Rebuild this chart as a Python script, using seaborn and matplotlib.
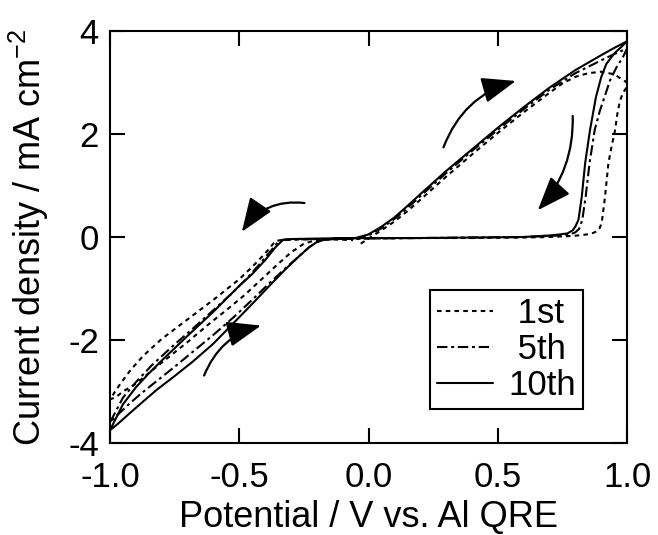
import numpy as np
import pandas as pd
import matplotlib
matplotlib.use("Agg")
import matplotlib.pyplot as plt
import seaborn as sns

# ---------------- data ----------------
cycle_names = ["1st", "5th", "10th"]
legend_labels = [" 1st", " 5th", "10th"]

# 1st cycle (dotted)
v1_fwd = [-0.03, 0.0, 0.05, 0.1, 0.15, 0.2, 0.3, 0.4, 0.5, 0.6, 0.7, 0.75, 0.8, 0.85, 0.9, 0.95, 0.975, 1.0]
i1_fwd = [-0.13, -0.03, 0.13, 0.3, 0.5, 0.72, 1.17, 1.6, 2.02, 2.42, 2.8, 2.98, 3.11, 3.18, 3.21, 3.16, 3.08, 3.0]
v1_rev = [0.995, 0.985, 0.973, 0.963, 0.954, 0.94, 0.928, 0.915, 0.902, 0.893, 0.883, 0.86, 0.83, 0.79, 0.7, 0.6, 0.4, 0.2, 0.0, -0.2, -0.3, -0.34]
i1_rev = [2.88, 2.8, 2.65, 2.4, 2.08, 1.75, 1.43, 0.78, 0.27, 0.16, 0.11, 0.06, 0.04, 0.02, 0.0, -0.01, -0.02, -0.02, -0.03, -0.04, -0.05, -0.06]
v1_cat = [-0.36, -0.4, -0.45, -0.5, -0.6, -0.7, -0.8, -0.87, -0.92, -0.96, -1.0]
i1_cat = [-0.08, -0.32, -0.58, -0.82, -1.22, -1.6, -1.98, -2.3, -2.58, -2.85, -3.15]
v1_ano = [-0.98, -0.95, -0.9, -0.84, -0.77, -0.7, -0.62, -0.55, -0.48, -0.42, -0.36, -0.3, -0.25, -0.21, -0.18, -0.12, -0.06]
i1_ano = [-3.12, -3.0, -2.85, -2.6, -2.32, -2.04, -1.7, -1.42, -1.13, -0.85, -0.57, -0.3, -0.13, -0.07, -0.05, -0.05, -0.06]

# 5th cycle (dash-dot)
v5_fwd = [-0.05, 0.0, 0.05, 0.1, 0.15, 0.2, 0.3, 0.4, 0.5, 0.6, 0.7, 0.8, 0.9, 0.95, 1.0]
i5_fwd = [-0.03, 0.03, 0.17, 0.35, 0.56, 0.79, 1.24, 1.67, 2.08, 2.48, 2.86, 3.18, 3.43, 3.55, 3.66]
v5_rev = [0.985, 0.96, 0.935, 0.915, 0.895, 0.875, 0.855, 0.84, 0.827, 0.815, 0.8, 0.78, 0.74, 0.7, 0.6, 0.4, 0.2, 0.0, -0.2, -0.3, -0.33]
i5_rev = [3.5, 3.3, 3.05, 2.75, 2.45, 2.08, 1.43, 0.78, 0.33, 0.16, 0.09, 0.05, 0.03, 0.02, 0.0, -0.01, -0.02, -0.03, -0.04, -0.05, -0.06]
v5_cat = [-0.35, -0.38, -0.42, -0.47, -0.53, -0.6, -0.68, -0.76, -0.84, -0.9, -0.95, -1.0]
i5_cat = [-0.1, -0.28, -0.52, -0.8, -1.1, -1.42, -1.78, -2.13, -2.5, -2.82, -3.12, -3.6]
v5_ano = [-0.97, -0.93, -0.88, -0.82, -0.75, -0.68, -0.6, -0.52, -0.45, -0.38, -0.32, -0.27, -0.23, -0.2, -0.17, -0.12, -0.05]
i5_ano = [-3.45, -3.26, -3.04, -2.8, -2.52, -2.23, -1.9, -1.55, -1.22, -0.88, -0.6, -0.38, -0.2, -0.1, -0.05, -0.04, -0.03]

# 10th cycle (solid)
v10_fwd = [-0.05, 0.0, 0.05, 0.1, 0.15, 0.2, 0.3, 0.4, 0.5, 0.6, 0.7, 0.8, 0.9, 0.95, 1.0]
i10_fwd = [-0.02, 0.05, 0.2, 0.38, 0.6, 0.83, 1.28, 1.7, 2.12, 2.52, 2.9, 3.24, 3.53, 3.67, 3.8]
v10_rev = [0.98, 0.95, 0.92, 0.9, 0.88, 0.857, 0.838, 0.825, 0.812, 0.8, 0.79, 0.77, 0.74, 0.7, 0.6, 0.4, 0.2, 0.0, -0.2, -0.3, -0.33]
i10_rev = [3.7, 3.56, 3.36, 3.1, 2.72, 2.08, 1.43, 0.78, 0.33, 0.2, 0.13, 0.07, 0.05, 0.03, 0.0, -0.01, -0.02, -0.02, -0.03, -0.04, -0.05]
v10_cat = [-0.36, -0.4, -0.45, -0.5, -0.6, -0.7, -0.8, -0.85, -0.9, -0.95, -1.0]
i10_cat = [-0.2, -0.45, -0.72, -0.95, -1.45, -1.92, -2.4, -2.65, -2.92, -3.25, -3.75]
v10_ano = [-0.97, -0.93, -0.88, -0.82, -0.75, -0.68, -0.6, -0.52, -0.45, -0.38, -0.32, -0.27, -0.23, -0.2, -0.17, -0.12, -0.05]
i10_ano = [-3.63, -3.45, -3.23, -2.97, -2.70, -2.42, -2.07, -1.66, -1.30, -0.93, -0.62, -0.38, -0.2, -0.1, -0.05, -0.03, -0.02]

x_ticks = [-1.0, -0.5, 0.0, 0.5, 1.0]
x_ticklabels = ["-1.0", "-0.5", "0.0", "0.5", "1.0"]
y_ticks = [-4, -2, 0, 2, 4]
y_ticklabels = ["-4", "-2", "0", "2", "4"]

# scan-direction arrows: (tail V, tail I, tip V, tip I, curvature)
arrows = [
    (0.29, 1.74, 0.57, 3.03, -0.25),
    (0.79, 2.35, 0.655, 0.52, -0.2),
    (-0.248, 0.66, -0.49, 0.10, 0.3),
    (-0.636, -2.69, -0.416, -1.72, -0.25),
]

# ---------------- build table ----------------
frames = []
for name, parts in [
    ("1st", [(v1_fwd, i1_fwd), (v1_rev, i1_rev), (v1_cat, i1_cat), (v1_ano, i1_ano)]),
    ("5th", [(v5_fwd, i5_fwd), (v5_rev, i5_rev), (v5_cat, i5_cat), (v5_ano, i5_ano)]),
    ("10th", [(v10_fwd, i10_fwd), (v10_rev, i10_rev), (v10_cat, i10_cat), (v10_ano, i10_ano)]),
]:
    v = sum([p[0] for p in parts], [])
    i = sum([p[1] for p in parts], [])
    frames.append(pd.DataFrame({"V": v, "I": i, "cycle": name}))
df = pd.concat(frames, ignore_index=True)

# ---------------- style ----------------
sns.set_style("ticks")
plt.rcParams["font.family"] = ["Liberation Sans", "DejaVu Sans"]
plt.rcParams["mathtext.fontset"] = "custom"
plt.rcParams["mathtext.rm"] = "Liberation Sans"
plt.rcParams["mathtext.it"] = "Liberation Sans:italic"
plt.rcParams["mathtext.default"] = "regular"
plt.rcParams["axes.unicode_minus"] = False
plt.rcParams["text.color"] = "black"
plt.rcParams["axes.labelcolor"] = "black"
plt.rcParams["xtick.color"] = "black"
plt.rcParams["ytick.color"] = "black"

FS = 26
TFS = 25
fig = plt.figure(figsize=(6.58, 5.35), dpi=100)
ax = fig.add_axes([110 / 658, 1 - 443 / 535, 517 / 658, 412 / 535])

sns.lineplot(
    data=df, x="V", y="I", hue="cycle", style="cycle",
    hue_order=cycle_names, style_order=cycle_names,
    palette=["black"] * 3,
    dashes={"1st": (2.2, 2.0), "5th": (5.0, 1.8, 1.4, 1.8), "10th": ""},
    sort=False, estimator=None, lw=1.5, ax=ax,
)

for tv, ti, hv, hi, rad in arrows:
    ax.annotate("", xy=(hv, hi), xytext=(tv, ti),
                arrowprops=dict(arrowstyle="-|>,head_length=1.0,head_width=0.38",
                                connectionstyle=f"arc3,rad={rad}",
                                color="black", lw=1.6, mutation_scale=21,
                                shrinkA=0, shrinkB=0))

ax.set_xlim(-1.0, 1.0)
ax.set_ylim(-4, 4)
ax.set_xticks(x_ticks)
ax.set_xticklabels(x_ticklabels)
ax.set_yticks(y_ticks)
ax.set_yticklabels(y_ticklabels)
ax.tick_params(direction="in", length=11, width=1.5, top=True, right=True,
               labelsize=TFS, color="black", labelcolor="black")
ax.tick_params(axis="x", pad=13)
ax.tick_params(axis="y", pad=8)
for s in ax.spines.values():
    s.set_linewidth(1.5)
    s.set_color("black")

ax.set_xlabel("Potential / V vs. Al QRE", fontsize=FS, labelpad=4, color="black")
ax.set_ylabel("Current density / mA cm$^{-2}$", fontsize=FS, labelpad=12, color="black")

handles, _ = ax.get_legend_handles_labels()
leg = ax.legend(handles[-3:], legend_labels, loc="lower right",
                bbox_to_anchor=(0.915, 0.083), borderaxespad=0,
                fontsize=25, frameon=True, fancybox=False, edgecolor="black",
                handlelength=1.6, handletextpad=0.45, labelspacing=0.08,
                borderpad=0.2)
leg.get_frame().set_linewidth(1.5)
leg.get_frame().set_alpha(1)
for t in leg.get_texts():
    t.set_color("black")

fig.savefig("out.png", dpi=100)
